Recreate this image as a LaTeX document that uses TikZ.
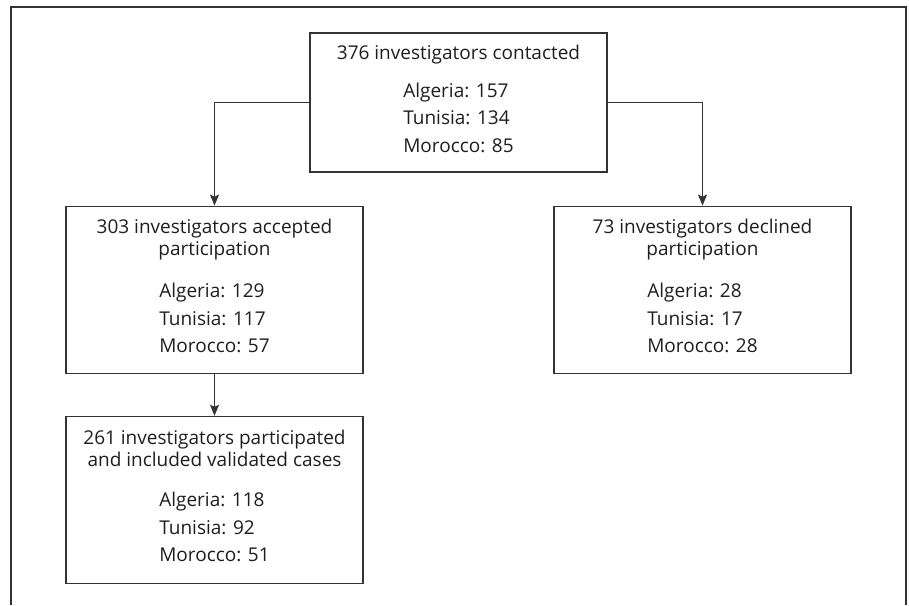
\documentclass[tikz,border=0pt]{standalone}
\usepackage{fontspec}
\setmainfont{Open Sans}
\usetikzlibrary{arrows.meta,positioning}
\definecolor{linegray}{HTML}{333333}
\definecolor{textgray}{HTML}{1E1E1E}
\renewcommand{\arraystretch}{1.24}

\begin{document}
\begin{tikzpicture}[x=1pt, y=-1pt,
      box/.style={draw=linegray, line width=1.2pt, align=center, inner sep=0pt,
        minimum width=297pt, minimum height=167pt, text=textgray,
        font=\fontsize{19}{22}\selectfont},
      arrow/.style={-{Stealth[length=11pt, width=9pt, inset=2pt]}, draw=linegray, line width=1.2pt}
    ]
      \useasboundingbox (0,0) rectangle (909,605);
      \draw[linegray, line width=1.2pt] (11,605) -- (11,7) -- (906,7) -- (906,605);
      \node[box, minimum height=139pt] (cont) at (458.5,102.5)
        {376 investigators contacted\\[14pt]\begin{tabular}[t]{@{}l@{}}Algeria: 157\\Tunisia: 134\\Morocco: 85\end{tabular}};
      \node[box, below=33pt of cont, xshift=-244pt] (acc)
        {303 investigators accepted\\participation\\[18pt]\begin{tabular}[t]{@{}l@{}}Algeria: 129\\Tunisia: 117\\Morocco: 57\end{tabular}};
      \node[box, below=33pt of cont, xshift=244pt] (decl)
        {73 investigators declined\\participation\\[18pt]\begin{tabular}[t]{@{}l@{}}Algeria: 28\\Tunisia: 17\\Morocco: 28\end{tabular}};
      \node[box, below=42pt of acc] (part)
        {261 investigators participated\\and included validated cases\\[18pt]\begin{tabular}[t]{@{}l@{}}Algeria: 118\\Tunisia: 92\\Morocco: 51\end{tabular}};
      \draw[arrow] (cont.west) -| (acc.north);
      \draw[arrow] (cont.east) -| (decl.north);
      \draw[arrow] (acc) -- (part);
    \end{tikzpicture}
\end{document}
